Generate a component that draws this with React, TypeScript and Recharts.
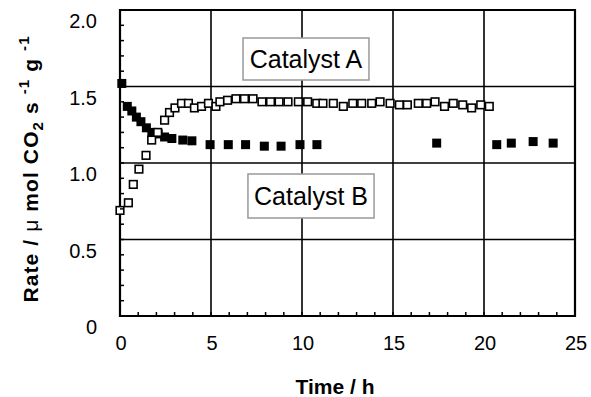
import React from "react";
import { ScatterChart, Scatter, XAxis, YAxis, CartesianGrid, ReferenceArea } from "recharts";

// Catalyst A (open squares)
const timeA = [0.0, 0.46, 0.73, 1.04, 1.43, 1.74, 2.07, 2.45, 2.72, 3.02, 3.38, 3.76, 4.09, 4.48, 4.86, 5.27, 5.49, 5.91, 6.37, 6.84, 7.31, 7.8, 8.27, 8.74, 9.23, 9.8, 10.31, 10.81, 11.15, 11.72, 12.27, 12.79, 13.28, 13.83, 14.29, 14.84, 15.35, 15.79, 16.39, 16.85, 17.31, 17.83, 18.31, 18.83, 19.32, 19.82, 20.29];
const rateA = [0.69, 0.74, 0.86, 0.96, 1.05, 1.15, 1.2, 1.28, 1.33, 1.36, 1.39, 1.39, 1.36, 1.37, 1.39, 1.37, 1.4, 1.41, 1.42, 1.42, 1.42, 1.4, 1.4, 1.4, 1.4, 1.4, 1.4, 1.39, 1.39, 1.39, 1.37, 1.39, 1.39, 1.39, 1.4, 1.39, 1.38, 1.38, 1.39, 1.39, 1.4, 1.37, 1.39, 1.38, 1.36, 1.38, 1.37];

// Catalyst B (filled squares)
const timeB = [0.1, 0.4, 0.65, 0.9, 1.15, 1.45, 1.75, 2.1, 2.45, 2.85, 3.45, 3.95, 4.95, 5.95, 6.9, 7.93, 8.85, 9.89, 10.82, 17.4, 20.7, 21.5, 22.7, 23.8];
const rateB = [1.52, 1.37, 1.34, 1.3, 1.27, 1.23, 1.2, 1.19, 1.17, 1.16, 1.15, 1.145, 1.12, 1.12, 1.12, 1.11, 1.11, 1.12, 1.12, 1.13, 1.12, 1.13, 1.14, 1.13];

const xTicks = [0, 1, 2, 3, 4, 5, 6, 7, 8, 9, 10, 11, 12, 13, 14, 15, 16, 17, 18, 19, 20, 21, 22, 23, 24, 25];
const yTicks = [0, 0.1, 0.2, 0.3, 0.4, 0.5, 0.6, 0.7, 0.8, 0.9, 1.0, 1.1, 1.2, 1.3, 1.4, 1.5, 1.6, 1.7, 1.8, 1.9, 2.0];
const xMajor = [0, 5, 10, 15, 20, 25];
const yMajor = [0, 0.5, 1.0, 1.5, 2.0];
const xGrid = [5, 10, 15, 20];
const yGrid = [0.5, 1.0, 1.5];
const xMax = 25;
const yMax = 2;

const dataA = timeA.map((t, i) => ({ x: t, y: rateA[i] }));
const dataB = timeB.map((t, i) => ({ x: t, y: rateB[i] }));

const font = "'Liberation Sans', Arial, Helvetica, sans-serif";

const OpenSquare = (props: any) => (
    <rect x={props.cx - 3.8} y={props.cy - 3.8} width={7.6} height={7.6} fill="#fff" stroke="#000" strokeWidth={1.6} />
);

const FilledSquare = (props: any) => (
    <rect x={props.cx - 4.5} y={props.cy - 4.5} width={9} height={9} fill="#000" />
);

const XTick = ({ x, y, payload }: any) => (
    <g>
        <line x1={x} x2={x} y1={y} y2={y - 4} stroke="#000" strokeWidth={1.5} />
        {xMajor.includes(payload.value) && (
            <text x={x + 1} y={y + 34} textAnchor="middle" fontFamily={font} fontSize={20} fill="#000">
                {payload.value}
            </text>
        )}
    </g>
);

const YTick = ({ x, y, payload }: any) => {
    const major = yMajor.some((v) => Math.abs(v - payload.value) < 1e-6);
    return (
        <g>
            <line x1={x} x2={x + 4} y1={y} y2={y} stroke="#000" strokeWidth={1.5} />
            {major && (
                <text x={x - 23} y={y + 18} textAnchor="end" fontFamily={font} fontSize={20} fill="#000">
                    {payload.value === 0 ? "0" : payload.value.toFixed(1)}
                </text>
            )}
        </g>
    );
};

const YTitle = () => (
    <text
        transform="translate(38,169) rotate(-90)"
        textAnchor="middle"
        fontFamily={font}
        fontSize={21}
        fontWeight="bold"
        letterSpacing={1.1}
        fill="#000"
    >
        Rate / <tspan fontWeight="normal">μ</tspan> mol CO<tspan fontSize={15} dy={5}>2</tspan>
        <tspan dy={-5}>  s </tspan>
        <tspan fontSize={15} dy={-9}>-1</tspan>
        <tspan dy={9}>   g </tspan>
        <tspan fontSize={15} dy={-9}>-1</tspan>
    </text>
);

const XTitle = () => (
    <text x={335} y={394} textAnchor="middle" fontFamily={font} fontSize={21} fontWeight="bold" fill="#000">
        Time / h
    </text>
);

export default function App() {
    return (
        <div style={{ position: "absolute", left: 0, top: 0, background: "#fff" }}>
            <ScatterChart width={591} height={397} margin={{ top: 10, right: 16, bottom: 0, left: 0 }}>
                <CartesianGrid
                    stroke="#000"
                    strokeWidth={1.6}
                    verticalCoordinatesGenerator={({ offset }: any) =>
                        xGrid.map((v) => offset.left + (offset.width * v) / xMax)
                    }
                    horizontalCoordinatesGenerator={({ offset }: any) =>
                        yGrid.map((v) => offset.top + offset.height * (1 - v / yMax))
                    }
                />
                <XAxis
                    type="number"
                    dataKey="x"
                    domain={[0, xMax]}
                    ticks={xTicks}
                    interval={0}
                    height={81}
                    axisLine={false}
                    tickLine={false}
                    tickSize={0}
                    tickMargin={0}
                    tick={<XTick />}
                    label={{ content: () => <XTitle /> }}
                />
                <YAxis
                    type="number"
                    dataKey="y"
                    domain={[0, yMax]}
                    ticks={yTicks}
                    interval={0}
                    width={120}
                    axisLine={false}
                    tickLine={false}
                    tickSize={0}
                    tickMargin={0}
                    tick={<YTick />}
                    label={{ content: () => <YTitle /> }}
                />
                <ReferenceArea x1={0} x2={xMax} y1={0} y2={yMax} fill="none" stroke="#000" strokeWidth={2.2} />
                <ReferenceArea
                    x1={6.76}
                    x2={13.68}
                    y1={1.542}
                    y2={1.817}
                    fill="#fff"
                    fillOpacity={1}
                    stroke="#999"
                    strokeWidth={1.5}
                    label={{ value: "Catalyst A", position: "center", fontFamily: font, fontSize: 25, fill: "#000" }}
                />
                <ReferenceArea
                    x1={7.03}
                    x2={13.96}
                    y1={0.64}
                    y2={0.928}
                    fill="#fff"
                    fillOpacity={1}
                    stroke="#999"
                    strokeWidth={1.5}
                    label={{ value: "Catalyst B", position: "center", fontFamily: font, fontSize: 25, fill: "#000" }}
                />
                <Scatter data={dataB} shape={FilledSquare} isAnimationActive={false} />
                <Scatter data={dataA} shape={OpenSquare} isAnimationActive={false} />
            </ScatterChart>
        </div>
    );
}
